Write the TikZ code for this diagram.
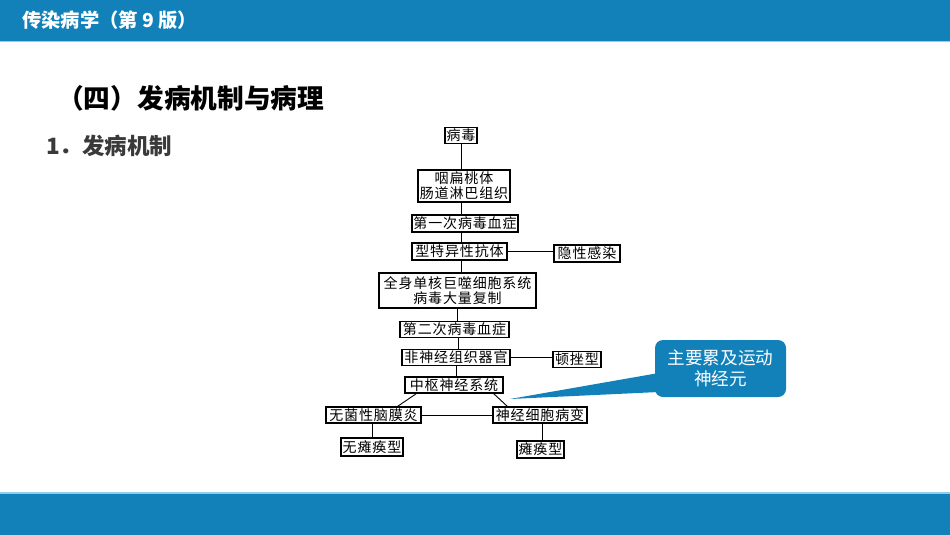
\documentclass[tikz,border=0pt]{standalone}
\usepackage{fontspec}
\newfontfamily\cjk{Noto Sans CJK SC}
\usetikzlibrary{calc, positioning}
\definecolor{barblue}{HTML}{1281BA}
\definecolor{barline}{HTML}{8FCDEB}
\definecolor{subgray}{HTML}{3A3A3A}

\begin{document}
\begin{tikzpicture}[
            x=1pt, y=-1pt,
            box/.style={draw, line width=1.1pt, inner sep=1pt, align=center, minimum height=16,
                font=\cjk\fontsize{14}{15}\selectfont\addfontfeature{LetterSpace=6}},
            link/.style={line width=0.9pt}
        ]
        \useasboundingbox (0,0) rectangle (950,535);

        % Header and footer bars
        \fill[barblue] (0,0) rectangle (950,41);
        \fill[barline] (0,41) rectangle (950,42.5);
        \fill[barline] (0,492) rectangle (950,493.5);
        \fill[barblue] (0,493.5) rectangle (950,535);

        \node[anchor=west, inner sep=0, text=white, font=\cjk\bfseries\fontsize{19.3}{21}\selectfont] (header) at (22,20) {传染病学（第 9 版）};

        % Titles
        \node[anchor=west, inner sep=0, font=\cjk\bfseries\fontsize{26.7}{30}\selectfont] (title) at (57,98) {（四）发病机制与病理};
        \node[anchor=west, inner sep=0, text=subgray, font=\cjk\bfseries\fontsize{22.5}{25}\selectfont] (subtitle) at (46,146) {1．发病机制};

        % Chart boxes
        \node[box, minimum width=32] (virus) at (461,135.5) {病毒};
        \node[box, minimum width=92, minimum height=32] (tonsil) at (464,186) {咽扁桃体\\肠道淋巴组织};
        \node[box, minimum width=106, minimum height=17] (viremia1) at (465,223.5) {第一次病毒血症};
        \node[box, minimum width=95, minimum height=17] (antibody) at (459.5,251.5) {型特异性抗体};
        \node[box, minimum width=66, minimum height=17] (latent) at (587,253.5) {隐性感染};
        \node[box, minimum width=157, minimum height=35] (mono) at (457.5,290.5) {全身单核巨噬细胞系统\\病毒大量复制};
        \node[box, minimum width=109] (viremia2) at (454.5,329.5) {第二次病毒血症};
        \node[box, minimum width=108] (nonneural) at (456,357.5) {非神经组织器官};
        \node[box, minimum width=48] (abortive) at (577,359.5) {顿挫型};
        \node[box, minimum width=98] (cns) at (454,385) {中枢神经系统};
        \node[box, minimum width=95] (meningitis) at (373.5,415) {无菌性脑膜炎};
        \node[box, minimum width=94] (neuron) at (540,415) {神经细胞病变};
        \node[box, minimum width=62, minimum height=18] (nonparalytic) at (372,447) {无瘫痪型};
        \node[box, minimum width=47, minimum height=17] (paralytic) at (540.5,449.5) {瘫痪型};

        % Main chain
        \draw[link] (virus.south) -- (virus.south |- tonsil.north);
        \draw[link] ([xshift=-3]tonsil.south) -- ([xshift=-3]tonsil.south |- viremia1.north);
        \draw[link] ([xshift=-4]viremia1.south) -- ([xshift=-4]viremia1.south |- antibody.north);
        \draw[link] ([xshift=1.5]antibody.south) -- ([xshift=1.5]antibody.south |- mono.north);
        \draw[link] (mono.south) -- (mono.south |- viremia2.north);
        \draw[link] ([xshift=3.5]viremia2.south) -- ([xshift=3.5]viremia2.south |- nonneural.north);
        \draw[link] (nonneural.south) -- (nonneural.south |- cns.north);

        % Side branches
        \draw[link] (antibody.east) -- (antibody.east -| latent.west);
        \draw[link] (nonneural.east) -- (nonneural.east -| abortive.west);
        \draw[link] ([xshift=12]cns.south west) -- ([xshift=72]meningitis.north west);
        \draw[link] ([xshift=-10]cns.south east) -- ([xshift=15]neuron.north west);
        \draw[link] (meningitis.east) -- (neuron.west);
        \draw[link] (nonparalytic.north) -- (nonparalytic.north |- meningitis.south);
        \draw[link] ([xshift=2]neuron.south) -- ([xshift=2]neuron.south |- paralytic.north);

        % Callout
        \node[fill=barblue, rounded corners=8, minimum width=131, minimum height=57, inner sep=0,
            align=center, text=white, font=\cjk\fontsize{17.6}{21}\selectfont] (callout) at (720.5,368.5) {主要累及运动\\神经元};
        \coordinate (tip) at (510,399);
        \fill[barblue] (tip) -- ([xshift=4,yshift=-4.5]callout.west) -- ([xshift=4,yshift=-23.5]callout.west) -- cycle;
    \end{tikzpicture}
\end{document}
